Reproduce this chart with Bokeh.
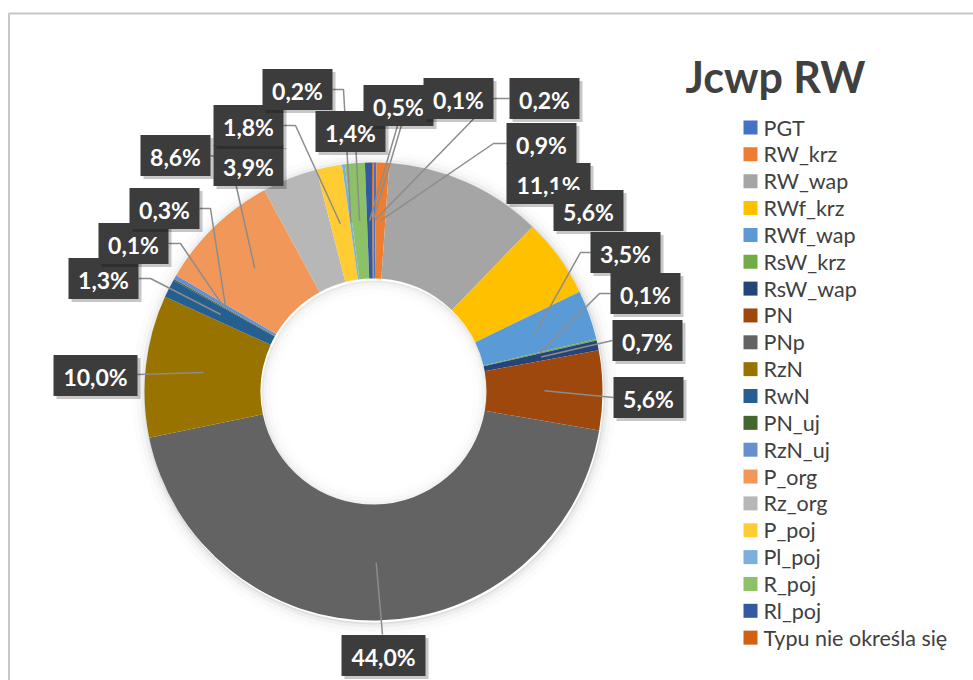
import math
from bokeh.plotting import figure
from bokeh.models import Range1d, ColumnDataSource
from bokeh.embed import file_html
from bokeh.resources import INLINE
from bokeh.core.properties import value

# ---------------- data ----------------
title = "Jcwp RW"
categories = ["PGT", "RW_krz", "RW_wap", "RWf_krz", "RWf_wap", "RsW_krz", "RsW_wap",
              "PN", "PNp", "RzN", "RwN", "PN_uj", "RzN_uj", "P_org", "Rz_org",
              "P_poj", "Pl_poj", "R_poj", "Rl_poj", "Typu nie określa się"]
shares = [0.2, 0.9, 11.1, 5.6, 3.5, 0.1, 0.7, 5.6, 44.0, 10.0, 1.3, 0.1, 0.3, 8.6, 3.9,
          1.8, 0.2, 1.4, 0.5, 0.1]
colors = ["#4472C4", "#ED7D31", "#A5A5A5", "#FFC000", "#5B9BD5", "#70AD47", "#264478",
          "#9E480E", "#636363", "#997300", "#255E91", "#43682B", "#698ED0", "#F1975A",
          "#B7B7B7", "#FFCD33", "#7CAFDD", "#8CC168", "#335AA1", "#D26012"]
labels = [("%.1f%%" % v).replace(".", ",") for v in shares]

# ---------------- layout (page pixel coordinates) ----------------
W, H = 973, 680
def X(px): return px
def Y(py): return H - py

CX, CY = 373, 391          # donut centre (page px)
R_OUT, R_IN = 229, 113
R_MID = (R_OUT + R_IN) / 2

label_pos = [(544, 98), (541, 143), (548, 183), (588, 210), (625, 252), (645, 293),
             (647, 340), (648, 397), (383, 655), (95, 375), (103, 278), (133, 243),
             (164, 208), (175, 155), (248, 165), (248, 125), (297, 89), (350, 131),
             (398, 105), (458, 98)]
label_w = [70, 70, 84, 70, 70, 70, 70, 70, 84, 84, 70, 70, 70, 70, 70, 70, 70, 70, 70, 70]
LABEL_H = 41
leaders = [[(509, 98), (493, 98)], [(506, 143), (493, 143)], None, None,
           [(590, 252), (580, 252)], [(610, 293), (599, 293)], [(612, 340)], [(613, 397)],
           [(382, 634)], [(137, 374)], [(138, 278), (150, 278)], [(168, 243), (180, 243)],
           [(199, 208), (210, 208)], [(210, 155), (230, 160)], None,
           [(283, 125), (295, 125)], [(332, 89), (343, 89)], [(355, 140)], [(400, 115)],
           [(440, 105), (403, 118)]]

p = figure(width=W, height=H, output_backend="svg", toolbar_location=None,
           x_range=Range1d(0, W), y_range=Range1d(0, H), min_border=0)
p.axis.visible = False
p.grid.visible = False
p.outline_line_color = None
p.background_fill_color = "white"
p.border_fill_color = "white"

# chart border (left and top edges visible)
p.line(x=[X(8.5), X(8.5), W + 5], y=[-5, Y(13), Y(13)], line_color="#C8C8C8", line_width=2)

# soft shadow around donut
for dr, a in [(2, 0.06), (5, 0.035), (9, 0.02), (14, 0.012)]:
    p.annular_wedge(x=X(CX) + 1, y=Y(CY) - 2, inner_radius=R_OUT, outer_radius=R_OUT + dr,
                    start_angle=0, end_angle=2 * math.pi, fill_color="black",
                    fill_alpha=a, line_color=None)
    p.annular_wedge(x=X(CX) + 1, y=Y(CY) - 2, inner_radius=max(R_IN - dr, 0), outer_radius=R_IN,
                    start_angle=0, end_angle=2 * math.pi, fill_color="black",
                    fill_alpha=a * 0.7, line_color=None)

# slices
total = sum(shares)
starts, ends, mids = [], [], []
cum = 0.0
for v in shares:
    f0 = cum / total
    cum += v
    f1 = cum / total
    starts.append(math.pi / 2 - 2 * math.pi * f0)
    ends.append(math.pi / 2 - 2 * math.pi * f1)
    mids.append(math.pi / 2 - 2 * math.pi * (f0 + f1) / 2)

src = ColumnDataSource(dict(cat=categories, start=starts, end=ends, color=colors))
p.annular_wedge(x=X(CX), y=Y(CY), inner_radius=R_IN, outer_radius=R_OUT,
                start_angle="start", end_angle="end", direction="clock",
                fill_color="color", line_color=None, source=src)

# leader lines
mid_pts = [(X(CX) + R_MID * math.cos(a), Y(CY) + R_MID * math.sin(a)) for a in mids]
lx, ly = [], []
for i, wp in enumerate(leaders):
    if wp is None:
        continue
    xs = [X(a) for a, b in wp] + [mid_pts[i][0]]
    ys = [Y(b) for a, b in wp] + [mid_pts[i][1]]
    lx.append(xs)
    ly.append(ys)
p.multi_line(xs=lx, ys=ly, line_color="#8C8C8C", line_width=1.5)

# data labels (drawn one by one so later labels overlap earlier ones)
for i, lab in enumerate(labels):
    cx, cy = label_pos[i]
    w = label_w[i]
    p.rect(x=X(cx) + 3, y=Y(cy) - 3, width=w, height=LABEL_H, fill_color="black",
           fill_alpha=0.22, line_color=None)
    p.rect(x=X(cx), y=Y(cy), width=w, height=LABEL_H, fill_color="#3C3C3C",
           line_color=None)
    p.text(x=[X(cx)], y=[Y(cy) - 1], text=[lab], text_color="white",
           text_font=value("Lato"), text_font_style="bold", text_font_size="23px",
           text_align="center", text_baseline="middle")

# title
p.text(x=[X(775)], y=[Y(76)], text=[title], text_color="#404040",
       text_font=value("Lato"), text_font_style="bold", text_font_size="43px",
       text_align="center", text_baseline="alphabetic")

# legend
LEG_Y0, LEG_DY = 127, 26.85
leg_y = [Y(LEG_Y0 + i * LEG_DY) for i in range(len(categories))]
p.rect(x=[X(750)] * len(categories), y=leg_y, width=14, height=14,
       fill_color=colors, line_color=None)
p.text(x=[X(763)] * len(categories), y=leg_y, text=categories, text_color="#404040",
       text_font=value("Lato"), text_font_size="21.5px", text_align="left",
       text_baseline="middle")

open("out.html", "w").write(file_html(p, INLINE))
